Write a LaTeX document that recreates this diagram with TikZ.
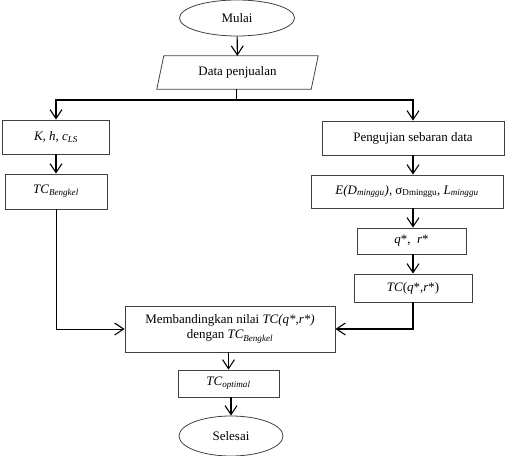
\documentclass[tikz,border=0pt]{standalone}
\usepackage{fontspec}
\setmainfont{Liberation Serif}
\usetikzlibrary{shapes.geometric,arrows.meta}
\begin{document}
\begin{tikzpicture}[x=1bp,y=-1bp,
  every node/.style={font=\fontsize{13}{15}\selectfont, inner sep=0pt, align=center},
  box/.style={draw=black!75, line width=0.8pt, rectangle},
  term/.style={draw=black!75, line width=0.8pt, ellipse},
  flow/.style={line width=1.1pt, -{Straight Barb[length=9bp,width=12bp,line width=1.1pt]}},
  thinflow/.style={line width=0.7pt, -{Straight Barb[length=9bp,width=12bp,line width=1.1pt]}}]
\useasboundingbox (0,0) rectangle (521,456);
\node[term, minimum width=115bp, minimum height=36bp] (start) at (237,18) {Mulai};
\node[minimum width=154bp, minimum height=33bp] (data) at (237.5,72.5) {Data penjualan};
\draw[black!75, line width=0.8pt] ([xshift=3.5bp]data.north west) -- ([xshift=3.5bp]data.north east)
  -- ([xshift=-3.5bp]data.south east) -- ([xshift=-3.5bp]data.south west) -- cycle;
\node[box, minimum width=107bp, minimum height=34bp] (khc) at (56,137) {\textit{K}, \textit{h}, \textit{c\textsubscript{LS}}};
\node[box, minimum width=182bp, minimum height=34bp] (peng) at (413,138) {Pengujian sebaran data};
\node[box, minimum width=102bp, minimum height=35bp] (tcb) at (56,191.5) {\textit{TC\textsubscript{Bengkel}}};
\node[box, minimum width=192bp, minimum height=33bp] (ed) at (407,191.5) {\textit{E(D\textsubscript{minggu})}, σ\textsubscript{Dminggu}, \textit{L\textsubscript{minggu}}};
\node[box, minimum width=109bp, minimum height=26bp] (qr) at (411.5,241) {\textit{q}*,\enspace\textit{r}*};
\node[box, minimum width=118bp, minimum height=28bp] (tcq) at (413,288) {\textit{TC}(\textit{q}*,\textit{r}*)};
\node[box, minimum width=210bp, minimum height=46bp] (cmp) at (230,329) {Membandingkan nilai \textit{TC(q*,r*)}\\dengan \textit{TC\textsubscript{Bengkel}}};
\node[box, minimum width=101bp, minimum height=27bp] (opt) at (228.5,383.5) {\textit{TC\textsubscript{optimal}}};
\node[term, minimum width=104bp, minimum height=40bp] (end) at (231,436) {Selesai};
\coordinate (split) at (236.5,100);
\draw[flow] (start) -- (data);
\draw[line width=1.1pt] (data.south -| split) -- (split);
\draw[flow] (split) -| (khc.north);
\draw[flow] (split) -| (peng.north);
\draw[flow] (khc) -- (tcb);
\draw[flow] (peng.south) -- (peng.south |- ed.north);
\draw[flow] (peng.south |- ed.south) -- (peng.south |- qr.north);
\draw[flow] (tcq.north |- qr.south) -- (tcq.north);
\draw[thinflow] (tcb.south) |- (cmp.west);
\draw[flow] (tcq.south) |- (cmp.east);
\draw[flow] (opt.north |- cmp.south) -- (opt.north);
\draw[flow] (end.north |- opt.south) -- (end.north);
\end{tikzpicture}
\end{document}
